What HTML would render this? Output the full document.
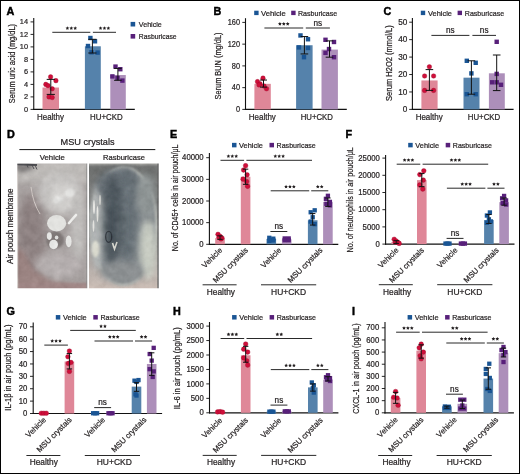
<!DOCTYPE html>
<html><head><meta charset="utf-8"><style>
html,body{margin:0;padding:0;background:#fff;}
body{width:520px;height:474px;overflow:hidden;}
svg{display:block;font-family:"Liberation Sans", sans-serif;}
text{stroke:#231f20;stroke-width:0.22px;}
svg{will-change:transform;opacity:0.999;}
</style></head><body>
<svg width="520" height="474" viewBox="0 0 520 474">
<rect x="0" y="0" width="520" height="474" fill="#fff"/>
<text x="6.40" y="14.90" font-size="10.8" text-anchor="start" font-weight="bold" fill="#000" style="stroke:#000;stroke-width:0.45px">A</text>
<line x1="33.75" y1="17.90" x2="33.75" y2="110.00" stroke="#111" stroke-width="1.1"/>
<line x1="33.20" y1="109.40" x2="134.80" y2="109.40" stroke="#111" stroke-width="1.2"/>
<line x1="30.55" y1="109.40" x2="33.75" y2="109.40" stroke="#111" stroke-width="0.9"/>
<text x="28.05" y="111.96" font-size="8.0" text-anchor="end" font-weight="normal" fill="#231f20" textLength="4.10" lengthAdjust="spacingAndGlyphs">0</text>
<line x1="30.55" y1="96.90" x2="33.75" y2="96.90" stroke="#111" stroke-width="0.9"/>
<text x="28.05" y="99.46" font-size="8.0" text-anchor="end" font-weight="normal" fill="#231f20" textLength="4.10" lengthAdjust="spacingAndGlyphs">2</text>
<line x1="30.55" y1="84.40" x2="33.75" y2="84.40" stroke="#111" stroke-width="0.9"/>
<text x="28.05" y="86.96" font-size="8.0" text-anchor="end" font-weight="normal" fill="#231f20" textLength="4.10" lengthAdjust="spacingAndGlyphs">4</text>
<line x1="30.55" y1="71.90" x2="33.75" y2="71.90" stroke="#111" stroke-width="0.9"/>
<text x="28.05" y="74.46" font-size="8.0" text-anchor="end" font-weight="normal" fill="#231f20" textLength="4.10" lengthAdjust="spacingAndGlyphs">6</text>
<line x1="30.55" y1="59.40" x2="33.75" y2="59.40" stroke="#111" stroke-width="0.9"/>
<text x="28.05" y="61.96" font-size="8.0" text-anchor="end" font-weight="normal" fill="#231f20" textLength="4.10" lengthAdjust="spacingAndGlyphs">8</text>
<line x1="30.55" y1="46.90" x2="33.75" y2="46.90" stroke="#111" stroke-width="0.9"/>
<text x="28.05" y="49.46" font-size="8.0" text-anchor="end" font-weight="normal" fill="#231f20" textLength="8.20" lengthAdjust="spacingAndGlyphs">10</text>
<line x1="30.55" y1="34.40" x2="33.75" y2="34.40" stroke="#111" stroke-width="0.9"/>
<text x="28.05" y="36.96" font-size="8.0" text-anchor="end" font-weight="normal" fill="#231f20" textLength="8.20" lengthAdjust="spacingAndGlyphs">12</text>
<line x1="30.55" y1="21.90" x2="33.75" y2="21.90" stroke="#111" stroke-width="0.9"/>
<text x="28.05" y="24.46" font-size="8.0" text-anchor="end" font-weight="normal" fill="#231f20" textLength="8.20" lengthAdjust="spacingAndGlyphs">14</text>
<text x="0" y="0" font-size="9.0" text-anchor="middle" fill="#231f20" textLength="79.20" lengthAdjust="spacingAndGlyphs" transform="translate(14.60 63.60) rotate(-90)">Serum uric acid (mg/dL)</text>
<rect x="42.50" y="87.53" width="16.50" height="21.88" fill="#df8798"/>
<rect x="84.90" y="46.28" width="15.90" height="63.12" fill="#5582ab"/>
<rect x="110.30" y="75.03" width="15.50" height="34.38" fill="#ad8fba"/>
<circle cx="50.60" cy="76.90" r="2.3" fill="#cf0f3a" stroke="#9a0a2a" stroke-width="0.35"/>
<circle cx="55.90" cy="80.65" r="2.3" fill="#cf0f3a" stroke="#9a0a2a" stroke-width="0.35"/>
<circle cx="45.80" cy="84.40" r="2.3" fill="#cf0f3a" stroke="#9a0a2a" stroke-width="0.35"/>
<circle cx="48.00" cy="85.65" r="2.3" fill="#cf0f3a" stroke="#9a0a2a" stroke-width="0.35"/>
<circle cx="52.20" cy="88.78" r="2.3" fill="#cf0f3a" stroke="#9a0a2a" stroke-width="0.35"/>
<circle cx="49.00" cy="96.90" r="2.3" fill="#cf0f3a" stroke="#9a0a2a" stroke-width="0.35"/>
<circle cx="52.20" cy="97.53" r="2.3" fill="#cf0f3a" stroke="#9a0a2a" stroke-width="0.35"/>
<line x1="50.80" y1="79.40" x2="50.80" y2="94.40" stroke="#111" stroke-width="1.0"/>
<line x1="46.70" y1="79.40" x2="54.90" y2="79.40" stroke="#111" stroke-width="1.0"/>
<line x1="46.70" y1="94.40" x2="54.90" y2="94.40" stroke="#111" stroke-width="1.0"/>
<rect x="88.20" y="35.80" width="4.40" height="4.40" fill="#1a5594"/>
<rect x="92.80" y="39.10" width="4.40" height="4.40" fill="#1a5594"/>
<rect x="85.80" y="43.80" width="4.40" height="4.40" fill="#1a5594"/>
<rect x="89.30" y="50.10" width="4.40" height="4.40" fill="#1a5594"/>
<rect x="95.40" y="50.40" width="4.40" height="4.40" fill="#1a5594"/>
<line x1="92.40" y1="39.30" x2="92.40" y2="53.00" stroke="#111" stroke-width="1.0"/>
<line x1="88.30" y1="39.30" x2="96.50" y2="39.30" stroke="#111" stroke-width="1.0"/>
<line x1="88.30" y1="53.00" x2="96.50" y2="53.00" stroke="#111" stroke-width="1.0"/>
<rect x="113.30" y="64.40" width="4.40" height="4.40" fill="#58207a"/>
<rect x="118.10" y="67.00" width="4.40" height="4.40" fill="#58207a"/>
<rect x="110.20" y="74.20" width="4.40" height="4.40" fill="#58207a"/>
<rect x="120.20" y="78.40" width="4.40" height="4.40" fill="#58207a"/>
<rect x="115.30" y="75.80" width="4.40" height="4.40" fill="#58207a"/>
<line x1="117.90" y1="68.40" x2="117.90" y2="80.30" stroke="#111" stroke-width="1.0"/>
<line x1="114.10" y1="68.40" x2="121.70" y2="68.40" stroke="#111" stroke-width="1.0"/>
<line x1="114.10" y1="80.30" x2="121.70" y2="80.30" stroke="#111" stroke-width="1.0"/>
<line x1="52.30" y1="32.30" x2="90.30" y2="32.30" stroke="#111" stroke-width="0.9"/>
<polygon points="67.40,26.25 67.97,27.41 69.25,27.60 68.33,28.50 68.55,29.78 67.40,29.17 66.25,29.78 66.47,28.50 65.55,27.60 66.83,27.41" fill="#231f20"/>
<polygon points="71.30,26.25 71.87,27.41 73.15,27.60 72.23,28.50 72.45,29.78 71.30,29.17 70.15,29.78 70.37,28.50 69.45,27.60 70.73,27.41" fill="#231f20"/>
<polygon points="75.20,26.25 75.77,27.41 77.05,27.60 76.13,28.50 76.35,29.78 75.20,29.17 74.05,29.78 74.27,28.50 73.35,27.60 74.63,27.41" fill="#231f20"/>
<line x1="92.90" y1="32.30" x2="116.00" y2="32.30" stroke="#111" stroke-width="0.9"/>
<polygon points="100.55,26.25 101.12,27.41 102.40,27.60 101.48,28.50 101.70,29.78 100.55,29.17 99.40,29.78 99.62,28.50 98.70,27.60 99.98,27.41" fill="#231f20"/>
<polygon points="104.45,26.25 105.02,27.41 106.30,27.60 105.38,28.50 105.60,29.78 104.45,29.17 103.30,29.78 103.52,28.50 102.60,27.60 103.88,27.41" fill="#231f20"/>
<polygon points="108.35,26.25 108.92,27.41 110.20,27.60 109.28,28.50 109.50,29.78 108.35,29.17 107.20,29.78 107.42,28.50 106.50,27.60 107.78,27.41" fill="#231f20"/>
<rect x="130.60" y="21.90" width="4.60" height="4.60" fill="#1a5594"/>
<text x="138.80" y="27.08" font-size="8.0" text-anchor="start" font-weight="normal" fill="#231f20" textLength="23.00" lengthAdjust="spacingAndGlyphs">Vehicle</text>
<rect x="130.60" y="34.00" width="4.60" height="4.60" fill="#58207a"/>
<text x="138.80" y="39.18" font-size="8.0" text-anchor="start" font-weight="normal" fill="#231f20" textLength="37.80" lengthAdjust="spacingAndGlyphs">Rasburicase</text>
<text x="50.45" y="119.90" font-size="8.6" text-anchor="middle" font-weight="normal" fill="#231f20" textLength="26.90" lengthAdjust="spacingAndGlyphs">Healthy</text>
<text x="106.40" y="119.90" font-size="8.6" text-anchor="middle" font-weight="normal" fill="#231f20" textLength="32.60" lengthAdjust="spacingAndGlyphs">HU+CKD</text>
<text x="213.40" y="15.00" font-size="10.8" text-anchor="start" font-weight="bold" fill="#000" style="stroke:#000;stroke-width:0.45px">B</text>
<line x1="245.50" y1="18.20" x2="245.50" y2="110.00" stroke="#111" stroke-width="1.1"/>
<line x1="244.95" y1="109.40" x2="346.80" y2="109.40" stroke="#111" stroke-width="1.2"/>
<line x1="242.30" y1="109.40" x2="245.50" y2="109.40" stroke="#111" stroke-width="0.9"/>
<text x="240.00" y="112.02" font-size="8.2" text-anchor="end" font-weight="normal" fill="#231f20" textLength="4.10" lengthAdjust="spacingAndGlyphs">0</text>
<line x1="242.30" y1="87.65" x2="245.50" y2="87.65" stroke="#111" stroke-width="0.9"/>
<text x="240.00" y="90.27" font-size="8.2" text-anchor="end" font-weight="normal" fill="#231f20" textLength="8.20" lengthAdjust="spacingAndGlyphs">40</text>
<line x1="242.30" y1="65.90" x2="245.50" y2="65.90" stroke="#111" stroke-width="0.9"/>
<text x="240.00" y="68.52" font-size="8.2" text-anchor="end" font-weight="normal" fill="#231f20" textLength="8.20" lengthAdjust="spacingAndGlyphs">80</text>
<line x1="242.30" y1="44.15" x2="245.50" y2="44.15" stroke="#111" stroke-width="0.9"/>
<text x="240.00" y="46.77" font-size="8.2" text-anchor="end" font-weight="normal" fill="#231f20" textLength="12.30" lengthAdjust="spacingAndGlyphs">120</text>
<line x1="242.30" y1="22.40" x2="245.50" y2="22.40" stroke="#111" stroke-width="0.9"/>
<text x="240.00" y="25.02" font-size="8.2" text-anchor="end" font-weight="normal" fill="#231f20" textLength="12.30" lengthAdjust="spacingAndGlyphs">160</text>
<text x="0" y="0" font-size="9.0" text-anchor="middle" fill="#231f20" textLength="66.90" lengthAdjust="spacingAndGlyphs" transform="translate(221.40 66.00) rotate(-90)">Serum BUN (mg/dL)</text>
<rect x="254.40" y="83.84" width="16.40" height="25.56" fill="#df8798"/>
<rect x="296.10" y="45.24" width="16.50" height="64.16" fill="#5582ab"/>
<rect x="321.50" y="49.59" width="16.40" height="59.81" fill="#ad8fba"/>
<circle cx="263.00" cy="78.13" r="2.3" fill="#cf0f3a" stroke="#9a0a2a" stroke-width="0.35"/>
<circle cx="257.50" cy="81.67" r="2.3" fill="#cf0f3a" stroke="#9a0a2a" stroke-width="0.35"/>
<circle cx="260.00" cy="83.84" r="2.3" fill="#cf0f3a" stroke="#9a0a2a" stroke-width="0.35"/>
<circle cx="266.50" cy="88.74" r="2.3" fill="#cf0f3a" stroke="#9a0a2a" stroke-width="0.35"/>
<circle cx="264.00" cy="86.02" r="2.3" fill="#cf0f3a" stroke="#9a0a2a" stroke-width="0.35"/>
<circle cx="259.00" cy="84.93" r="2.3" fill="#cf0f3a" stroke="#9a0a2a" stroke-width="0.35"/>
<line x1="263.50" y1="80.04" x2="263.50" y2="87.11" stroke="#111" stroke-width="1.0"/>
<line x1="260.00" y1="80.04" x2="267.00" y2="80.04" stroke="#111" stroke-width="1.0"/>
<line x1="260.00" y1="87.11" x2="267.00" y2="87.11" stroke="#111" stroke-width="1.0"/>
<rect x="298.30" y="33.25" width="4.40" height="4.40" fill="#1a5594"/>
<rect x="305.80" y="37.06" width="4.40" height="4.40" fill="#1a5594"/>
<rect x="296.80" y="45.21" width="4.40" height="4.40" fill="#1a5594"/>
<rect x="305.80" y="45.76" width="4.40" height="4.40" fill="#1a5594"/>
<rect x="301.80" y="55.00" width="4.40" height="4.40" fill="#1a5594"/>
<line x1="304.40" y1="36.54" x2="304.40" y2="53.94" stroke="#111" stroke-width="1.0"/>
<line x1="300.60" y1="36.54" x2="308.20" y2="36.54" stroke="#111" stroke-width="1.0"/>
<line x1="300.60" y1="53.94" x2="308.20" y2="53.94" stroke="#111" stroke-width="1.0"/>
<rect x="323.30" y="37.60" width="4.40" height="4.40" fill="#58207a"/>
<rect x="331.80" y="39.78" width="4.40" height="4.40" fill="#58207a"/>
<rect x="326.80" y="46.84" width="4.40" height="4.40" fill="#58207a"/>
<rect x="323.30" y="50.65" width="4.40" height="4.40" fill="#58207a"/>
<rect x="331.80" y="55.00" width="4.40" height="4.40" fill="#58207a"/>
<line x1="329.50" y1="40.89" x2="329.50" y2="57.20" stroke="#111" stroke-width="1.0"/>
<line x1="325.70" y1="40.89" x2="333.30" y2="40.89" stroke="#111" stroke-width="1.0"/>
<line x1="325.70" y1="57.20" x2="333.30" y2="57.20" stroke="#111" stroke-width="1.0"/>
<line x1="264.40" y1="28.00" x2="303.20" y2="28.00" stroke="#111" stroke-width="0.9"/>
<polygon points="279.90,21.95 280.47,23.11 281.75,23.30 280.83,24.20 281.05,25.48 279.90,24.88 278.75,25.48 278.97,24.20 278.05,23.30 279.33,23.11" fill="#231f20"/>
<polygon points="283.80,21.95 284.37,23.11 285.65,23.30 284.73,24.20 284.95,25.48 283.80,24.88 282.65,25.48 282.87,24.20 281.95,23.30 283.23,23.11" fill="#231f20"/>
<polygon points="287.70,21.95 288.27,23.11 289.55,23.30 288.63,24.20 288.85,25.48 287.70,24.88 286.55,25.48 286.77,24.20 285.85,23.30 287.13,23.11" fill="#231f20"/>
<line x1="305.80" y1="28.00" x2="329.90" y2="28.00" stroke="#111" stroke-width="0.9"/>
<text x="317.85" y="25.80" font-size="8.2" text-anchor="middle" font-weight="normal" fill="#231f20">ns</text>
<rect x="254.20" y="10.70" width="4.40" height="4.40" fill="#1a5594"/>
<text x="261.00" y="15.78" font-size="8.0" text-anchor="start" font-weight="normal" fill="#231f20" textLength="24.80" lengthAdjust="spacingAndGlyphs">Vehicle</text>
<rect x="291.20" y="10.70" width="4.40" height="4.40" fill="#58207a"/>
<text x="298.00" y="15.78" font-size="8.0" text-anchor="start" font-weight="normal" fill="#231f20" textLength="39.20" lengthAdjust="spacingAndGlyphs">Rasburicase</text>
<text x="262.30" y="119.90" font-size="8.6" text-anchor="middle" font-weight="normal" fill="#231f20" textLength="27.00" lengthAdjust="spacingAndGlyphs">Healthy</text>
<text x="316.80" y="119.90" font-size="8.6" text-anchor="middle" font-weight="normal" fill="#231f20" textLength="32.20" lengthAdjust="spacingAndGlyphs">HU+CKD</text>
<text x="383.60" y="15.00" font-size="10.8" text-anchor="start" font-weight="bold" fill="#000" style="stroke:#000;stroke-width:0.45px">C</text>
<line x1="412.40" y1="17.90" x2="412.40" y2="110.00" stroke="#111" stroke-width="1.1"/>
<line x1="411.85" y1="109.40" x2="513.60" y2="109.40" stroke="#111" stroke-width="1.2"/>
<line x1="409.20" y1="109.40" x2="412.40" y2="109.40" stroke="#111" stroke-width="0.9"/>
<text x="407.30" y="112.02" font-size="8.2" text-anchor="end" font-weight="normal" fill="#231f20" textLength="4.55" lengthAdjust="spacingAndGlyphs">0</text>
<line x1="409.20" y1="91.96" x2="412.40" y2="91.96" stroke="#111" stroke-width="0.9"/>
<text x="407.30" y="94.58" font-size="8.2" text-anchor="end" font-weight="normal" fill="#231f20" textLength="9.10" lengthAdjust="spacingAndGlyphs">10</text>
<line x1="409.20" y1="74.52" x2="412.40" y2="74.52" stroke="#111" stroke-width="0.9"/>
<text x="407.30" y="77.14" font-size="8.2" text-anchor="end" font-weight="normal" fill="#231f20" textLength="9.10" lengthAdjust="spacingAndGlyphs">20</text>
<line x1="409.20" y1="57.08" x2="412.40" y2="57.08" stroke="#111" stroke-width="0.9"/>
<text x="407.30" y="59.70" font-size="8.2" text-anchor="end" font-weight="normal" fill="#231f20" textLength="9.10" lengthAdjust="spacingAndGlyphs">30</text>
<line x1="409.20" y1="39.64" x2="412.40" y2="39.64" stroke="#111" stroke-width="0.9"/>
<text x="407.30" y="42.26" font-size="8.2" text-anchor="end" font-weight="normal" fill="#231f20" textLength="9.10" lengthAdjust="spacingAndGlyphs">40</text>
<line x1="409.20" y1="22.20" x2="412.40" y2="22.20" stroke="#111" stroke-width="0.9"/>
<text x="407.30" y="24.82" font-size="8.2" text-anchor="end" font-weight="normal" fill="#231f20" textLength="9.10" lengthAdjust="spacingAndGlyphs">50</text>
<text x="0" y="0" font-size="9.0" text-anchor="middle" fill="#231f20" textLength="75.80" lengthAdjust="spacingAndGlyphs" transform="translate(392.10 63.10) rotate(-90)">Serum H2O2 (mmol/L)</text>
<rect x="421.40" y="80.45" width="16.20" height="28.95" fill="#df8798"/>
<rect x="463.50" y="77.66" width="16.00" height="31.74" fill="#5582ab"/>
<rect x="488.90" y="73.30" width="15.90" height="36.10" fill="#ad8fba"/>
<circle cx="429.40" cy="66.80" r="2.3" fill="#cf0f3a" stroke="#9a0a2a" stroke-width="0.35"/>
<circle cx="424.60" cy="76.00" r="2.3" fill="#cf0f3a" stroke="#9a0a2a" stroke-width="0.35"/>
<circle cx="433.60" cy="76.00" r="2.3" fill="#cf0f3a" stroke="#9a0a2a" stroke-width="0.35"/>
<circle cx="424.60" cy="90.40" r="2.3" fill="#cf0f3a" stroke="#9a0a2a" stroke-width="0.35"/>
<circle cx="433.60" cy="90.40" r="2.3" fill="#cf0f3a" stroke="#9a0a2a" stroke-width="0.35"/>
<line x1="429.40" y1="69.60" x2="429.40" y2="90.40" stroke="#111" stroke-width="1.0"/>
<line x1="425.60" y1="69.60" x2="433.20" y2="69.60" stroke="#111" stroke-width="1.0"/>
<line x1="425.60" y1="90.40" x2="433.20" y2="90.40" stroke="#111" stroke-width="1.0"/>
<rect x="464.60" y="58.60" width="4.40" height="4.40" fill="#1a5594"/>
<rect x="473.50" y="60.60" width="4.40" height="4.40" fill="#1a5594"/>
<rect x="469.20" y="71.20" width="4.40" height="4.40" fill="#1a5594"/>
<rect x="464.60" y="92.00" width="4.40" height="4.40" fill="#1a5594"/>
<rect x="473.50" y="92.00" width="4.40" height="4.40" fill="#1a5594"/>
<line x1="471.40" y1="60.80" x2="471.40" y2="94.20" stroke="#111" stroke-width="1.0"/>
<line x1="467.60" y1="60.80" x2="475.20" y2="60.80" stroke="#111" stroke-width="1.0"/>
<line x1="467.60" y1="94.20" x2="475.20" y2="94.20" stroke="#111" stroke-width="1.0"/>
<rect x="494.50" y="39.60" width="4.40" height="4.40" fill="#58207a"/>
<rect x="494.50" y="71.70" width="4.40" height="4.40" fill="#58207a"/>
<rect x="490.00" y="80.10" width="4.40" height="4.40" fill="#58207a"/>
<rect x="498.80" y="82.60" width="4.40" height="4.40" fill="#58207a"/>
<rect x="494.50" y="80.10" width="4.40" height="4.40" fill="#58207a"/>
<line x1="496.70" y1="55.00" x2="496.70" y2="90.60" stroke="#111" stroke-width="1.0"/>
<line x1="492.90" y1="55.00" x2="500.50" y2="55.00" stroke="#111" stroke-width="1.0"/>
<line x1="492.90" y1="90.60" x2="500.50" y2="90.60" stroke="#111" stroke-width="1.0"/>
<line x1="431.40" y1="35.40" x2="469.40" y2="35.40" stroke="#111" stroke-width="0.9"/>
<text x="450.40" y="33.20" font-size="8.2" text-anchor="middle" font-weight="normal" fill="#231f20">ns</text>
<line x1="472.40" y1="35.40" x2="496.00" y2="35.40" stroke="#111" stroke-width="0.9"/>
<text x="484.20" y="33.20" font-size="8.2" text-anchor="middle" font-weight="normal" fill="#231f20">ns</text>
<rect x="420.80" y="10.70" width="4.40" height="4.40" fill="#1a5594"/>
<text x="428.00" y="15.78" font-size="8.0" text-anchor="start" font-weight="normal" fill="#231f20" textLength="24.00" lengthAdjust="spacingAndGlyphs">Vehicle</text>
<rect x="457.60" y="10.70" width="4.40" height="4.40" fill="#58207a"/>
<text x="464.80" y="15.78" font-size="8.0" text-anchor="start" font-weight="normal" fill="#231f20" textLength="39.30" lengthAdjust="spacingAndGlyphs">Rasburicase</text>
<text x="429.20" y="119.90" font-size="8.6" text-anchor="middle" font-weight="normal" fill="#231f20" textLength="27.00" lengthAdjust="spacingAndGlyphs">Healthy</text>
<text x="484.00" y="119.90" font-size="8.6" text-anchor="middle" font-weight="normal" fill="#231f20" textLength="32.40" lengthAdjust="spacingAndGlyphs">HU+CKD</text>
<text x="6.90" y="138.30" font-size="10.8" text-anchor="start" font-weight="bold" fill="#000" style="stroke:#000;stroke-width:0.45px">D</text>
<text x="87.60" y="145.40" font-size="9.0" text-anchor="middle" font-weight="normal" fill="#231f20" textLength="54.00" lengthAdjust="spacingAndGlyphs">MSU crystals</text>
<line x1="19.40" y1="149.60" x2="155.30" y2="149.60" stroke="#111" stroke-width="1.0"/>
<text x="52.30" y="159.60" font-size="7.5" text-anchor="middle" font-weight="normal" fill="#231f20" textLength="25.10" lengthAdjust="spacingAndGlyphs">Vehicle</text>
<text x="124.00" y="159.60" font-size="7.5" text-anchor="middle" font-weight="normal" fill="#231f20" textLength="41.90" lengthAdjust="spacingAndGlyphs">Rasburicase</text>
<text x="0" y="0" font-size="8.2" text-anchor="middle" fill="#231f20" textLength="75.4" lengthAdjust="spacingAndGlyphs" transform="translate(12.8 226.3) rotate(-90)">Air pouch membrane</text>
<defs><clipPath id="cpl"><rect x="17.3" y="163.4" width="70" height="124.8"/></clipPath><clipPath id="cpr"><rect x="89" y="163.4" width="69.7" height="124.8"/></clipPath><filter id="b1" x="-50%" y="-50%" width="200%" height="200%"><feGaussianBlur stdDeviation="1"/></filter><filter id="b2" x="-50%" y="-50%" width="200%" height="200%"><feGaussianBlur stdDeviation="2"/></filter><filter id="b3" x="-50%" y="-50%" width="200%" height="200%"><feGaussianBlur stdDeviation="3"/></filter><filter id="b5" x="-50%" y="-50%" width="200%" height="200%"><feGaussianBlur stdDeviation="5"/></filter><filter id="b4" x="-50%" y="-50%" width="200%" height="200%"><feGaussianBlur stdDeviation="4"/></filter><filter id="b05" x="-50%" y="-50%" width="200%" height="200%"><feGaussianBlur stdDeviation="0.6"/></filter><filter id="tex" x="0" y="0" width="100%" height="100%" color-interpolation-filters="sRGB"><feTurbulence type="fractalNoise" baseFrequency="0.13" numOctaves="3" seed="11" result="t"/><feColorMatrix in="t" type="matrix" values="0.33 0.33 0.33 0 0 0.33 0.33 0.33 0 0 0.33 0.33 0.33 0 0 0 0 0 0 1" result="g"/><feComposite in="SourceGraphic" in2="g" operator="arithmetic" k1="0" k2="1" k3="0.16" k4="-0.08"/></filter><linearGradient id="gr" x1="0" y1="0" x2="0" y2="1"><stop offset="0" stop-color="#6e706f"/><stop offset="0.5" stop-color="#838483"/><stop offset="0.8" stop-color="#b0aaa6"/><stop offset="1" stop-color="#cbbdb5"/></linearGradient></defs>
<g clip-path="url(#cpl)"><g filter="url(#tex)">
<rect x="17" y="163" width="71" height="126" fill="#a7a1a0"/>
<rect x="10" y="158" width="85" height="24" fill="#bdbab7" filter="url(#b3)"/>
<ellipse cx="31" cy="238" rx="15" ry="44" fill="#8e8282" filter="url(#b4)"/>
<ellipse cx="60" cy="192" rx="22" ry="20" fill="#c6c4c2" filter="url(#b4)"/>
<ellipse cx="64" cy="199" rx="15" ry="14" fill="#d2d0ce" filter="url(#b4)"/>
<ellipse cx="78" cy="225" rx="7" ry="40" fill="#c0bebc" filter="url(#b3)"/>
<ellipse cx="58" cy="265" rx="23" ry="13" fill="#b5afaf" filter="url(#b3)"/>
<path d="M14 245 L24 252 L34 270 L52 281 L80 286 L90 292 L14 292 Z" fill="#9b8482" filter="url(#b2)"/>
<rect x="10" y="283" width="85" height="12" fill="#a08786" filter="url(#b1)"/>
<rect x="15" y="163" width="3.2" height="126" fill="#c4bcb8" filter="url(#b05)"/>
<path d="M31 187 Q33 203 40 214" stroke="#d4ccc8" stroke-width="0.9" fill="none" filter="url(#b05)"/>
<ellipse cx="70" cy="193" rx="5" ry="4" fill="#e2e2e0" filter="url(#b1)"/>
<ellipse cx="58" cy="200" rx="5" ry="4" fill="#dcdcda" filter="url(#b1)"/>
<path d="M69 223 L76 215" stroke="#eeeeec" stroke-width="2.6" stroke-linecap="round" filter="url(#b05)"/>
<ellipse cx="55" cy="240" rx="9" ry="9" fill="#7f7877" filter="url(#b1)"/>
<ellipse cx="56.6" cy="223.2" rx="9.6" ry="8.2" fill="#e2e2df" filter="url(#b05)"/>
<ellipse cx="49.3" cy="236.1" rx="2.5" ry="3.8" fill="#e6e6e4" filter="url(#b05)"/>
<ellipse cx="53.6" cy="244.5" rx="4.4" ry="4.7" fill="#e6e6e4" filter="url(#b05)"/>
<ellipse cx="56.6" cy="237.6" rx="1.8" ry="2" fill="#e2e2e0" filter="url(#b05)"/>
<ellipse cx="68.7" cy="241.4" rx="2.9" ry="5.8" fill="#e6e6e4" filter="url(#b05)"/>
<ellipse cx="24" cy="167" rx="9" ry="5" fill="#7e7a7a" filter="url(#b2)"/>
<path d="M17 164.3 L37 165" stroke="#4a4a4e" stroke-width="1.8" filter="url(#b05)"/>
<path d="M32 165 L34 169 M35 165 L37 169.5 M27 165 L28 167.5" stroke="#4a4a4e" stroke-width="0.9" filter="url(#b05)"/>
<rect x="86.4" y="163" width="1" height="126" fill="#888"/>
</g></g>
<g clip-path="url(#cpr)"><g filter="url(#tex)">
<rect x="88" y="163" width="72" height="126" fill="url(#gr)"/>
<rect x="85" y="160" width="80" height="5" fill="#a6a6a2" filter="url(#b1)"/>
<ellipse cx="123.8" cy="226" rx="33.5" ry="59" fill="#878d90" filter="url(#b1)"/>
<ellipse cx="123.8" cy="226" rx="33" ry="58.5" fill="none" stroke="#c2c4be" stroke-width="2.4" opacity="0.9" filter="url(#b1)"/>
<ellipse cx="97.5" cy="226" rx="7" ry="44" fill="#b0b4b4" filter="url(#b2)"/>
<ellipse cx="118" cy="185" rx="22" ry="16" fill="#687076" filter="url(#b3)"/>
<ellipse cx="127" cy="218" rx="11" ry="50" fill="#667076" filter="url(#b4)"/>
<ellipse cx="112.5" cy="222" rx="9" ry="47" fill="#4a525a" filter="url(#b4)"/>
<ellipse cx="146" cy="195" rx="9" ry="22" fill="#8e9494" filter="url(#b3)"/>
<ellipse cx="148" cy="250" rx="8.5" ry="30" fill="#c8ccc2" filter="url(#b3)"/>
<ellipse cx="94" cy="207" rx="1" ry="7" fill="#e8e8e4" filter="url(#b05)"/>
<ellipse cx="97.5" cy="214" rx="0.9" ry="8" fill="#e4e4e0" filter="url(#b05)"/>
<ellipse cx="93.5" cy="226" rx="0.9" ry="6" fill="#e0e0dc" filter="url(#b05)"/>
<ellipse cx="100" cy="200" rx="0.8" ry="5" fill="#d8d8d4" filter="url(#b05)"/>
<ellipse cx="95.5" cy="249" rx="3.7" ry="8.5" fill="#dcdcd0" filter="url(#b1)"/>
<ellipse cx="108.7" cy="236.8" rx="3" ry="5.5" fill="none" stroke="#30363c" stroke-width="1.3" filter="url(#b05)"/>
<path d="M112.5 243 L114.5 249 L117 242" stroke="#d4d4cc" stroke-width="1.6" fill="none" filter="url(#b05)"/>
<ellipse cx="122" cy="272" rx="22" ry="11" fill="#8c9092" filter="url(#b3)"/>
<rect x="157.4" y="163" width="2" height="126" fill="#606060"/>
</g></g>
<text x="170.00" y="138.40" font-size="10.8" text-anchor="start" font-weight="bold" fill="#000" style="stroke:#000;stroke-width:0.45px">E</text>
<line x1="209.40" y1="153.10" x2="209.40" y2="244.90" stroke="#111" stroke-width="1.1"/>
<line x1="208.85" y1="244.30" x2="338.30" y2="244.30" stroke="#111" stroke-width="1.2"/>
<line x1="206.20" y1="244.30" x2="209.40" y2="244.30" stroke="#111" stroke-width="0.9"/>
<text x="203.60" y="246.96" font-size="8.3" text-anchor="end" font-weight="normal" fill="#231f20" textLength="4.30" lengthAdjust="spacingAndGlyphs">0</text>
<line x1="206.20" y1="222.65" x2="209.40" y2="222.65" stroke="#111" stroke-width="0.9"/>
<text x="203.60" y="225.31" font-size="8.3" text-anchor="end" font-weight="normal" fill="#231f20" textLength="21.50" lengthAdjust="spacingAndGlyphs">10000</text>
<line x1="206.20" y1="201.00" x2="209.40" y2="201.00" stroke="#111" stroke-width="0.9"/>
<text x="203.60" y="203.66" font-size="8.3" text-anchor="end" font-weight="normal" fill="#231f20" textLength="21.50" lengthAdjust="spacingAndGlyphs">20000</text>
<line x1="206.20" y1="179.35" x2="209.40" y2="179.35" stroke="#111" stroke-width="0.9"/>
<text x="203.60" y="182.01" font-size="8.3" text-anchor="end" font-weight="normal" fill="#231f20" textLength="21.50" lengthAdjust="spacingAndGlyphs">30000</text>
<line x1="206.20" y1="157.70" x2="209.40" y2="157.70" stroke="#111" stroke-width="0.9"/>
<text x="203.60" y="160.36" font-size="8.3" text-anchor="end" font-weight="normal" fill="#231f20" textLength="21.50" lengthAdjust="spacingAndGlyphs">40000</text>
<text x="0" y="0" font-size="8.6" text-anchor="middle" fill="#231f20" textLength="106.50" lengthAdjust="spacingAndGlyphs" transform="translate(177.80 197.90) rotate(-90)">No. of CD45+ cells in air pouch/μL</text>
<rect x="215.20" y="238.11" width="9.60" height="6.19" fill="#df8798"/>
<rect x="240.80" y="176.75" width="9.60" height="67.55" fill="#df8798"/>
<rect x="266.50" y="238.89" width="9.60" height="5.41" fill="#5582ab"/>
<rect x="281.90" y="239.32" width="9.60" height="4.98" fill="#ad8fba"/>
<rect x="307.90" y="220.27" width="9.60" height="24.03" fill="#5582ab"/>
<rect x="323.10" y="201.87" width="9.60" height="42.43" fill="#ad8fba"/>
<circle cx="218.00" cy="234.34" r="2.35" fill="#cf0f3a" stroke="#9a0a2a" stroke-width="0.35"/>
<circle cx="220.00" cy="236.29" r="2.35" fill="#cf0f3a" stroke="#9a0a2a" stroke-width="0.35"/>
<circle cx="222.00" cy="238.02" r="2.35" fill="#cf0f3a" stroke="#9a0a2a" stroke-width="0.35"/>
<circle cx="221.00" cy="238.89" r="2.35" fill="#cf0f3a" stroke="#9a0a2a" stroke-width="0.35"/>
<circle cx="219.00" cy="237.37" r="2.35" fill="#cf0f3a" stroke="#9a0a2a" stroke-width="0.35"/>
<line x1="220.00" y1="235.86" x2="220.00" y2="239.32" stroke="#111" stroke-width="1.0"/>
<line x1="217.30" y1="235.86" x2="222.70" y2="235.86" stroke="#111" stroke-width="1.0"/>
<line x1="217.30" y1="239.32" x2="222.70" y2="239.32" stroke="#111" stroke-width="1.0"/>
<circle cx="245.60" cy="165.71" r="2.35" fill="#cf0f3a" stroke="#9a0a2a" stroke-width="0.35"/>
<circle cx="243.60" cy="170.04" r="2.35" fill="#cf0f3a" stroke="#9a0a2a" stroke-width="0.35"/>
<circle cx="247.10" cy="174.80" r="2.35" fill="#cf0f3a" stroke="#9a0a2a" stroke-width="0.35"/>
<circle cx="243.10" cy="179.13" r="2.35" fill="#cf0f3a" stroke="#9a0a2a" stroke-width="0.35"/>
<circle cx="246.60" cy="181.51" r="2.35" fill="#cf0f3a" stroke="#9a0a2a" stroke-width="0.35"/>
<circle cx="247.60" cy="186.28" r="2.35" fill="#cf0f3a" stroke="#9a0a2a" stroke-width="0.35"/>
<line x1="245.60" y1="169.17" x2="245.60" y2="184.33" stroke="#111" stroke-width="1.0"/>
<line x1="242.90" y1="169.17" x2="248.30" y2="169.17" stroke="#111" stroke-width="1.0"/>
<line x1="242.90" y1="184.33" x2="248.30" y2="184.33" stroke="#111" stroke-width="1.0"/>
<rect x="267.15" y="235.66" width="4.30" height="4.30" fill="#1a5594"/>
<rect x="271.15" y="236.52" width="4.30" height="4.30" fill="#1a5594"/>
<rect x="269.15" y="237.82" width="4.30" height="4.30" fill="#1a5594"/>
<rect x="267.15" y="238.69" width="4.30" height="4.30" fill="#1a5594"/>
<rect x="271.15" y="238.25" width="4.30" height="4.30" fill="#1a5594"/>
<rect x="282.55" y="236.30" width="4.30" height="4.30" fill="#58207a"/>
<rect x="286.55" y="236.30" width="4.30" height="4.30" fill="#58207a"/>
<rect x="284.55" y="237.17" width="4.30" height="4.30" fill="#58207a"/>
<rect x="282.55" y="238.04" width="4.30" height="4.30" fill="#58207a"/>
<rect x="286.55" y="238.04" width="4.30" height="4.30" fill="#58207a"/>
<rect x="312.55" y="208.16" width="4.30" height="4.30" fill="#1a5594"/>
<rect x="308.55" y="210.11" width="4.30" height="4.30" fill="#1a5594"/>
<rect x="310.55" y="215.09" width="4.30" height="4.30" fill="#1a5594"/>
<rect x="308.55" y="219.42" width="4.30" height="4.30" fill="#1a5594"/>
<rect x="312.55" y="222.02" width="4.30" height="4.30" fill="#1a5594"/>
<line x1="312.70" y1="213.56" x2="312.70" y2="225.03" stroke="#111" stroke-width="1.0"/>
<line x1="310.00" y1="213.56" x2="315.40" y2="213.56" stroke="#111" stroke-width="1.0"/>
<line x1="310.00" y1="225.03" x2="315.40" y2="225.03" stroke="#111" stroke-width="1.0"/>
<rect x="325.75" y="193.65" width="4.30" height="4.30" fill="#58207a"/>
<rect x="323.75" y="196.68" width="4.30" height="4.30" fill="#58207a"/>
<rect x="327.75" y="199.72" width="4.30" height="4.30" fill="#58207a"/>
<rect x="324.25" y="201.66" width="4.30" height="4.30" fill="#58207a"/>
<rect x="327.75" y="203.18" width="4.30" height="4.30" fill="#58207a"/>
<line x1="327.90" y1="197.97" x2="327.90" y2="206.41" stroke="#111" stroke-width="1.0"/>
<line x1="325.20" y1="197.97" x2="330.60" y2="197.97" stroke="#111" stroke-width="1.0"/>
<line x1="325.20" y1="206.41" x2="330.60" y2="206.41" stroke="#111" stroke-width="1.0"/>
<line x1="220.50" y1="160.30" x2="244.10" y2="160.30" stroke="#111" stroke-width="0.9"/>
<polygon points="228.40,154.25 228.97,155.41 230.25,155.60 229.33,156.50 229.55,157.78 228.40,157.18 227.25,157.78 227.47,156.50 226.55,155.60 227.83,155.41" fill="#231f20"/>
<polygon points="232.30,154.25 232.87,155.41 234.15,155.60 233.23,156.50 233.45,157.78 232.30,157.18 231.15,157.78 231.37,156.50 230.45,155.60 231.73,155.41" fill="#231f20"/>
<polygon points="236.20,154.25 236.77,155.41 238.05,155.60 237.13,156.50 237.35,157.78 236.20,157.18 235.05,157.78 235.27,156.50 234.35,155.60 235.63,155.41" fill="#231f20"/>
<line x1="246.40" y1="160.30" x2="312.00" y2="160.30" stroke="#111" stroke-width="0.9"/>
<polygon points="275.30,154.25 275.87,155.41 277.15,155.60 276.23,156.50 276.45,157.78 275.30,157.18 274.15,157.78 274.37,156.50 273.45,155.60 274.73,155.41" fill="#231f20"/>
<polygon points="279.20,154.25 279.77,155.41 281.05,155.60 280.13,156.50 280.35,157.78 279.20,157.18 278.05,157.78 278.27,156.50 277.35,155.60 278.63,155.41" fill="#231f20"/>
<polygon points="283.10,154.25 283.67,155.41 284.95,155.60 284.03,156.50 284.25,157.78 283.10,157.18 281.95,157.78 282.17,156.50 281.25,155.60 282.53,155.41" fill="#231f20"/>
<line x1="270.70" y1="190.80" x2="309.20" y2="190.80" stroke="#111" stroke-width="0.9"/>
<polygon points="286.05,184.75 286.62,185.91 287.90,186.10 286.98,187.00 287.20,188.28 286.05,187.68 284.90,188.28 285.12,187.00 284.20,186.10 285.48,185.91" fill="#231f20"/>
<polygon points="289.95,184.75 290.52,185.91 291.80,186.10 290.88,187.00 291.10,188.28 289.95,187.68 288.80,188.28 289.02,187.00 288.10,186.10 289.38,185.91" fill="#231f20"/>
<polygon points="293.85,184.75 294.42,185.91 295.70,186.10 294.78,187.00 295.00,188.28 293.85,187.68 292.70,188.28 292.92,187.00 292.00,186.10 293.28,185.91" fill="#231f20"/>
<line x1="311.20" y1="190.80" x2="328.30" y2="190.80" stroke="#111" stroke-width="0.9"/>
<polygon points="317.80,184.75 318.37,185.91 319.65,186.10 318.73,187.00 318.95,188.28 317.80,187.68 316.65,188.28 316.87,187.00 315.95,186.10 317.23,185.91" fill="#231f20"/>
<polygon points="321.70,184.75 322.27,185.91 323.55,186.10 322.63,187.00 322.85,188.28 321.70,187.68 320.55,188.28 320.77,187.00 319.85,186.10 321.13,185.91" fill="#231f20"/>
<line x1="270.40" y1="231.50" x2="287.30" y2="231.50" stroke="#111" stroke-width="0.9"/>
<text x="278.85" y="229.30" font-size="8.2" text-anchor="middle" font-weight="normal" fill="#231f20">ns</text>
<rect x="232.00" y="142.85" width="4.50" height="4.50" fill="#1a5594"/>
<text x="239.10" y="147.98" font-size="8.0" text-anchor="start" font-weight="normal" fill="#231f20" textLength="23.80" lengthAdjust="spacingAndGlyphs">Vehicle</text>
<rect x="269.50" y="142.85" width="4.50" height="4.50" fill="#58207a"/>
<text x="276.60" y="147.98" font-size="8.0" text-anchor="start" font-weight="normal" fill="#231f20" textLength="39.20" lengthAdjust="spacingAndGlyphs">Rasburicase</text>
<text x="0" y="0" font-size="7.8" text-anchor="end" fill="#231f20" transform="translate(222.80 250.70) rotate(-45)">Vehicle</text>
<text x="0" y="0" font-size="7.8" text-anchor="end" fill="#231f20" transform="translate(248.40 250.70) rotate(-45)">MSU crystals</text>
<text x="0" y="0" font-size="7.8" text-anchor="end" fill="#231f20" transform="translate(281.80 250.70) rotate(-45)">Vehicle</text>
<text x="0" y="0" font-size="7.8" text-anchor="end" fill="#231f20" transform="translate(323.10 250.70) rotate(-45)">MSU crystals</text>
<line x1="202.60" y1="284.80" x2="236.60" y2="284.80" stroke="#111" stroke-width="0.9"/>
<line x1="261.00" y1="284.80" x2="316.20" y2="284.80" stroke="#111" stroke-width="0.9"/>
<text x="220.90" y="295.30" font-size="8.3" text-anchor="middle" font-weight="normal" fill="#231f20" textLength="28.20" lengthAdjust="spacingAndGlyphs">Healthy</text>
<text x="288.60" y="295.30" font-size="8.3" text-anchor="middle" font-weight="normal" fill="#231f20" textLength="35.00" lengthAdjust="spacingAndGlyphs">HU+CKD</text>
<text x="345.60" y="138.40" font-size="10.8" text-anchor="start" font-weight="bold" fill="#000" style="stroke:#000;stroke-width:0.45px">F</text>
<line x1="385.60" y1="155.00" x2="385.60" y2="244.70" stroke="#111" stroke-width="1.1"/>
<line x1="385.05" y1="244.10" x2="514.50" y2="244.10" stroke="#111" stroke-width="1.2"/>
<line x1="382.40" y1="244.10" x2="385.60" y2="244.10" stroke="#111" stroke-width="0.9"/>
<text x="379.80" y="246.76" font-size="8.3" text-anchor="end" font-weight="normal" fill="#231f20" textLength="4.30" lengthAdjust="spacingAndGlyphs">0</text>
<line x1="382.40" y1="226.90" x2="385.60" y2="226.90" stroke="#111" stroke-width="0.9"/>
<text x="379.80" y="229.56" font-size="8.3" text-anchor="end" font-weight="normal" fill="#231f20" textLength="17.20" lengthAdjust="spacingAndGlyphs">5000</text>
<line x1="382.40" y1="209.70" x2="385.60" y2="209.70" stroke="#111" stroke-width="0.9"/>
<text x="379.80" y="212.36" font-size="8.3" text-anchor="end" font-weight="normal" fill="#231f20" textLength="21.50" lengthAdjust="spacingAndGlyphs">10000</text>
<line x1="382.40" y1="192.50" x2="385.60" y2="192.50" stroke="#111" stroke-width="0.9"/>
<text x="379.80" y="195.16" font-size="8.3" text-anchor="end" font-weight="normal" fill="#231f20" textLength="21.50" lengthAdjust="spacingAndGlyphs">15000</text>
<line x1="382.40" y1="175.30" x2="385.60" y2="175.30" stroke="#111" stroke-width="0.9"/>
<text x="379.80" y="177.96" font-size="8.3" text-anchor="end" font-weight="normal" fill="#231f20" textLength="21.50" lengthAdjust="spacingAndGlyphs">20000</text>
<line x1="382.40" y1="158.10" x2="385.60" y2="158.10" stroke="#111" stroke-width="0.9"/>
<text x="379.80" y="160.76" font-size="8.3" text-anchor="end" font-weight="normal" fill="#231f20" textLength="21.50" lengthAdjust="spacingAndGlyphs">25000</text>
<text x="0" y="0" font-size="8.6" text-anchor="middle" fill="#231f20" textLength="105.20" lengthAdjust="spacingAndGlyphs" transform="translate(353.10 199.80) rotate(-90)">No. of neutrophils in air pouch/μL</text>
<rect x="391.40" y="242.04" width="9.60" height="2.06" fill="#df8798"/>
<rect x="417.00" y="180.12" width="9.60" height="63.98" fill="#df8798"/>
<rect x="442.70" y="243.58" width="9.60" height="0.52" fill="#5582ab"/>
<rect x="458.10" y="243.58" width="9.60" height="0.52" fill="#ad8fba"/>
<rect x="484.10" y="220.02" width="9.60" height="24.08" fill="#5582ab"/>
<rect x="499.30" y="202.13" width="9.60" height="41.97" fill="#ad8fba"/>
<circle cx="394.20" cy="239.28" r="2.35" fill="#cf0f3a" stroke="#9a0a2a" stroke-width="0.35"/>
<circle cx="396.20" cy="241.00" r="2.35" fill="#cf0f3a" stroke="#9a0a2a" stroke-width="0.35"/>
<circle cx="398.20" cy="242.72" r="2.35" fill="#cf0f3a" stroke="#9a0a2a" stroke-width="0.35"/>
<circle cx="399.20" cy="243.41" r="2.35" fill="#cf0f3a" stroke="#9a0a2a" stroke-width="0.35"/>
<circle cx="395.20" cy="242.04" r="2.35" fill="#cf0f3a" stroke="#9a0a2a" stroke-width="0.35"/>
<line x1="396.20" y1="240.66" x2="396.20" y2="243.41" stroke="#111" stroke-width="1.0"/>
<line x1="393.50" y1="240.66" x2="398.90" y2="240.66" stroke="#111" stroke-width="1.0"/>
<line x1="393.50" y1="243.41" x2="398.90" y2="243.41" stroke="#111" stroke-width="1.0"/>
<circle cx="423.80" cy="170.83" r="2.35" fill="#cf0f3a" stroke="#9a0a2a" stroke-width="0.35"/>
<circle cx="419.80" cy="174.61" r="2.35" fill="#cf0f3a" stroke="#9a0a2a" stroke-width="0.35"/>
<circle cx="423.30" cy="180.12" r="2.35" fill="#cf0f3a" stroke="#9a0a2a" stroke-width="0.35"/>
<circle cx="419.80" cy="184.93" r="2.35" fill="#cf0f3a" stroke="#9a0a2a" stroke-width="0.35"/>
<circle cx="422.80" cy="189.06" r="2.35" fill="#cf0f3a" stroke="#9a0a2a" stroke-width="0.35"/>
<line x1="421.80" y1="173.58" x2="421.80" y2="186.65" stroke="#111" stroke-width="1.0"/>
<line x1="419.10" y1="173.58" x2="424.50" y2="173.58" stroke="#111" stroke-width="1.0"/>
<line x1="419.10" y1="186.65" x2="424.50" y2="186.65" stroke="#111" stroke-width="1.0"/>
<rect x="443.35" y="241.43" width="4.30" height="4.30" fill="#1a5594"/>
<rect x="447.35" y="241.43" width="4.30" height="4.30" fill="#1a5594"/>
<rect x="445.35" y="241.43" width="4.30" height="4.30" fill="#1a5594"/>
<rect x="458.75" y="241.43" width="4.30" height="4.30" fill="#58207a"/>
<rect x="462.75" y="241.43" width="4.30" height="4.30" fill="#58207a"/>
<rect x="460.75" y="241.43" width="4.30" height="4.30" fill="#58207a"/>
<rect x="487.75" y="210.30" width="4.30" height="4.30" fill="#1a5594"/>
<rect x="484.75" y="213.40" width="4.30" height="4.30" fill="#1a5594"/>
<rect x="486.75" y="217.18" width="4.30" height="4.30" fill="#1a5594"/>
<rect x="484.75" y="220.62" width="4.30" height="4.30" fill="#1a5594"/>
<rect x="488.75" y="219.25" width="4.30" height="4.30" fill="#1a5594"/>
<line x1="488.90" y1="214.52" x2="488.90" y2="223.46" stroke="#111" stroke-width="1.0"/>
<line x1="486.20" y1="214.52" x2="491.60" y2="214.52" stroke="#111" stroke-width="1.0"/>
<line x1="486.20" y1="223.46" x2="491.60" y2="223.46" stroke="#111" stroke-width="1.0"/>
<rect x="501.95" y="193.79" width="4.30" height="4.30" fill="#58207a"/>
<rect x="499.95" y="196.20" width="4.30" height="4.30" fill="#58207a"/>
<rect x="503.95" y="198.26" width="4.30" height="4.30" fill="#58207a"/>
<rect x="500.45" y="201.01" width="4.30" height="4.30" fill="#58207a"/>
<rect x="503.95" y="202.39" width="4.30" height="4.30" fill="#58207a"/>
<line x1="504.10" y1="198.00" x2="504.10" y2="205.23" stroke="#111" stroke-width="1.0"/>
<line x1="501.40" y1="198.00" x2="506.80" y2="198.00" stroke="#111" stroke-width="1.0"/>
<line x1="501.40" y1="205.23" x2="506.80" y2="205.23" stroke="#111" stroke-width="1.0"/>
<line x1="396.70" y1="164.20" x2="420.30" y2="164.20" stroke="#111" stroke-width="0.9"/>
<polygon points="404.60,158.15 405.17,159.31 406.45,159.50 405.53,160.40 405.75,161.68 404.60,161.07 403.45,161.68 403.67,160.40 402.75,159.50 404.03,159.31" fill="#231f20"/>
<polygon points="408.50,158.15 409.07,159.31 410.35,159.50 409.43,160.40 409.65,161.68 408.50,161.07 407.35,161.68 407.57,160.40 406.65,159.50 407.93,159.31" fill="#231f20"/>
<polygon points="412.40,158.15 412.97,159.31 414.25,159.50 413.33,160.40 413.55,161.68 412.40,161.07 411.25,161.68 411.47,160.40 410.55,159.50 411.83,159.31" fill="#231f20"/>
<line x1="422.60" y1="164.20" x2="488.20" y2="164.20" stroke="#111" stroke-width="0.9"/>
<polygon points="451.50,158.15 452.07,159.31 453.35,159.50 452.43,160.40 452.65,161.68 451.50,161.07 450.35,161.68 450.57,160.40 449.65,159.50 450.93,159.31" fill="#231f20"/>
<polygon points="455.40,158.15 455.97,159.31 457.25,159.50 456.33,160.40 456.55,161.68 455.40,161.07 454.25,161.68 454.47,160.40 453.55,159.50 454.83,159.31" fill="#231f20"/>
<polygon points="459.30,158.15 459.87,159.31 461.15,159.50 460.23,160.40 460.45,161.68 459.30,161.07 458.15,161.68 458.37,160.40 457.45,159.50 458.73,159.31" fill="#231f20"/>
<line x1="446.90" y1="188.20" x2="485.40" y2="188.20" stroke="#111" stroke-width="0.9"/>
<polygon points="462.25,182.15 462.82,183.31 464.10,183.50 463.18,184.40 463.40,185.68 462.25,185.07 461.10,185.68 461.32,184.40 460.40,183.50 461.68,183.31" fill="#231f20"/>
<polygon points="466.15,182.15 466.72,183.31 468.00,183.50 467.08,184.40 467.30,185.68 466.15,185.07 465.00,185.68 465.22,184.40 464.30,183.50 465.58,183.31" fill="#231f20"/>
<polygon points="470.05,182.15 470.62,183.31 471.90,183.50 470.98,184.40 471.20,185.68 470.05,185.07 468.90,185.68 469.12,184.40 468.20,183.50 469.48,183.31" fill="#231f20"/>
<line x1="487.40" y1="188.20" x2="504.50" y2="188.20" stroke="#111" stroke-width="0.9"/>
<polygon points="494.00,182.15 494.57,183.31 495.85,183.50 494.93,184.40 495.15,185.68 494.00,185.07 492.85,185.68 493.07,184.40 492.15,183.50 493.43,183.31" fill="#231f20"/>
<polygon points="497.90,182.15 498.47,183.31 499.75,183.50 498.83,184.40 499.05,185.68 497.90,185.07 496.75,185.68 496.97,184.40 496.05,183.50 497.33,183.31" fill="#231f20"/>
<line x1="446.60" y1="238.40" x2="463.50" y2="238.40" stroke="#111" stroke-width="0.9"/>
<text x="455.05" y="236.20" font-size="8.2" text-anchor="middle" font-weight="normal" fill="#231f20">ns</text>
<rect x="408.20" y="142.85" width="4.50" height="4.50" fill="#1a5594"/>
<text x="415.30" y="147.98" font-size="8.0" text-anchor="start" font-weight="normal" fill="#231f20" textLength="23.80" lengthAdjust="spacingAndGlyphs">Vehicle</text>
<rect x="445.70" y="142.85" width="4.50" height="4.50" fill="#58207a"/>
<text x="452.80" y="147.98" font-size="8.0" text-anchor="start" font-weight="normal" fill="#231f20" textLength="39.20" lengthAdjust="spacingAndGlyphs">Rasburicase</text>
<text x="0" y="0" font-size="7.8" text-anchor="end" fill="#231f20" transform="translate(399.00 250.70) rotate(-45)">Vehicle</text>
<text x="0" y="0" font-size="7.8" text-anchor="end" fill="#231f20" transform="translate(424.60 250.70) rotate(-45)">MSU crystals</text>
<text x="0" y="0" font-size="7.8" text-anchor="end" fill="#231f20" transform="translate(458.00 250.70) rotate(-45)">Vehicle</text>
<text x="0" y="0" font-size="7.8" text-anchor="end" fill="#231f20" transform="translate(499.30 250.70) rotate(-45)">MSU crystals</text>
<line x1="378.80" y1="284.70" x2="412.80" y2="284.70" stroke="#111" stroke-width="0.9"/>
<line x1="437.20" y1="284.70" x2="492.40" y2="284.70" stroke="#111" stroke-width="0.9"/>
<text x="397.10" y="295.30" font-size="8.3" text-anchor="middle" font-weight="normal" fill="#231f20" textLength="28.20" lengthAdjust="spacingAndGlyphs">Healthy</text>
<text x="464.80" y="295.30" font-size="8.3" text-anchor="middle" font-weight="normal" fill="#231f20" textLength="35.00" lengthAdjust="spacingAndGlyphs">HU+CKD</text>
<text x="6.60" y="315.00" font-size="10.8" text-anchor="start" font-weight="bold" fill="#000" style="stroke:#000;stroke-width:0.45px">G</text>
<line x1="33.20" y1="322.50" x2="33.20" y2="414.10" stroke="#111" stroke-width="1.1"/>
<line x1="32.65" y1="413.50" x2="162.10" y2="413.50" stroke="#111" stroke-width="1.2"/>
<line x1="30.00" y1="413.50" x2="33.20" y2="413.50" stroke="#111" stroke-width="0.9"/>
<text x="27.40" y="416.16" font-size="8.3" text-anchor="end" font-weight="normal" fill="#231f20" textLength="4.30" lengthAdjust="spacingAndGlyphs">0</text>
<line x1="30.00" y1="401.11" x2="33.20" y2="401.11" stroke="#111" stroke-width="0.9"/>
<text x="27.40" y="403.77" font-size="8.3" text-anchor="end" font-weight="normal" fill="#231f20" textLength="8.60" lengthAdjust="spacingAndGlyphs">10</text>
<line x1="30.00" y1="388.73" x2="33.20" y2="388.73" stroke="#111" stroke-width="0.9"/>
<text x="27.40" y="391.38" font-size="8.3" text-anchor="end" font-weight="normal" fill="#231f20" textLength="8.60" lengthAdjust="spacingAndGlyphs">20</text>
<line x1="30.00" y1="376.34" x2="33.20" y2="376.34" stroke="#111" stroke-width="0.9"/>
<text x="27.40" y="379.00" font-size="8.3" text-anchor="end" font-weight="normal" fill="#231f20" textLength="8.60" lengthAdjust="spacingAndGlyphs">30</text>
<line x1="30.00" y1="363.96" x2="33.20" y2="363.96" stroke="#111" stroke-width="0.9"/>
<text x="27.40" y="366.61" font-size="8.3" text-anchor="end" font-weight="normal" fill="#231f20" textLength="8.60" lengthAdjust="spacingAndGlyphs">40</text>
<line x1="30.00" y1="351.57" x2="33.20" y2="351.57" stroke="#111" stroke-width="0.9"/>
<text x="27.40" y="354.23" font-size="8.3" text-anchor="end" font-weight="normal" fill="#231f20" textLength="8.60" lengthAdjust="spacingAndGlyphs">50</text>
<line x1="30.00" y1="339.19" x2="33.20" y2="339.19" stroke="#111" stroke-width="0.9"/>
<text x="27.40" y="341.84" font-size="8.3" text-anchor="end" font-weight="normal" fill="#231f20" textLength="8.60" lengthAdjust="spacingAndGlyphs">60</text>
<line x1="30.00" y1="326.80" x2="33.20" y2="326.80" stroke="#111" stroke-width="0.9"/>
<text x="27.40" y="329.46" font-size="8.3" text-anchor="end" font-weight="normal" fill="#231f20" textLength="8.60" lengthAdjust="spacingAndGlyphs">70</text>
<text x="0" y="0" font-size="8.6" text-anchor="middle" fill="#231f20" textLength="86.20" lengthAdjust="spacingAndGlyphs" transform="translate(11.40 367.60) rotate(-90)">IL-1β in air pouch (pg/mL)</text>
<rect x="39.00" y="413.13" width="9.60" height="0.37" fill="#df8798"/>
<rect x="64.60" y="361.48" width="9.60" height="52.02" fill="#df8798"/>
<rect x="90.30" y="413.13" width="9.60" height="0.37" fill="#5582ab"/>
<rect x="105.70" y="413.13" width="9.60" height="0.37" fill="#ad8fba"/>
<rect x="131.70" y="386.62" width="9.60" height="26.88" fill="#5582ab"/>
<rect x="146.90" y="363.96" width="9.60" height="49.54" fill="#ad8fba"/>
<circle cx="41.30" cy="413.25" r="2.35" fill="#cf0f3a" stroke="#9a0a2a" stroke-width="0.35"/>
<circle cx="43.80" cy="413.25" r="2.35" fill="#cf0f3a" stroke="#9a0a2a" stroke-width="0.35"/>
<circle cx="46.30" cy="413.25" r="2.35" fill="#cf0f3a" stroke="#9a0a2a" stroke-width="0.35"/>
<circle cx="69.40" cy="351.08" r="2.35" fill="#cf0f3a" stroke="#9a0a2a" stroke-width="0.35"/>
<circle cx="67.90" cy="356.77" r="2.35" fill="#cf0f3a" stroke="#9a0a2a" stroke-width="0.35"/>
<circle cx="70.90" cy="362.47" r="2.35" fill="#cf0f3a" stroke="#9a0a2a" stroke-width="0.35"/>
<circle cx="68.40" cy="363.46" r="2.35" fill="#cf0f3a" stroke="#9a0a2a" stroke-width="0.35"/>
<circle cx="69.40" cy="371.39" r="2.35" fill="#cf0f3a" stroke="#9a0a2a" stroke-width="0.35"/>
<line x1="69.40" y1="353.55" x2="69.40" y2="368.91" stroke="#111" stroke-width="1.0"/>
<line x1="66.70" y1="353.55" x2="72.10" y2="353.55" stroke="#111" stroke-width="1.0"/>
<line x1="66.70" y1="368.91" x2="72.10" y2="368.91" stroke="#111" stroke-width="1.0"/>
<rect x="90.95" y="411.10" width="4.30" height="4.30" fill="#1a5594"/>
<rect x="94.95" y="411.10" width="4.30" height="4.30" fill="#1a5594"/>
<rect x="92.95" y="411.10" width="4.30" height="4.30" fill="#1a5594"/>
<rect x="106.35" y="411.10" width="4.30" height="4.30" fill="#58207a"/>
<rect x="110.35" y="411.10" width="4.30" height="4.30" fill="#58207a"/>
<rect x="108.35" y="411.10" width="4.30" height="4.30" fill="#58207a"/>
<rect x="132.35" y="378.53" width="4.30" height="4.30" fill="#1a5594"/>
<rect x="136.35" y="377.91" width="4.30" height="4.30" fill="#1a5594"/>
<rect x="134.35" y="379.77" width="4.30" height="4.30" fill="#1a5594"/>
<rect x="134.35" y="393.39" width="4.30" height="4.30" fill="#1a5594"/>
<rect x="133.35" y="392.15" width="4.30" height="4.30" fill="#1a5594"/>
<line x1="136.50" y1="382.66" x2="136.50" y2="391.33" stroke="#111" stroke-width="1.0"/>
<line x1="133.80" y1="382.66" x2="139.20" y2="382.66" stroke="#111" stroke-width="1.0"/>
<line x1="133.80" y1="391.33" x2="139.20" y2="391.33" stroke="#111" stroke-width="1.0"/>
<rect x="151.55" y="345.71" width="4.30" height="4.30" fill="#58207a"/>
<rect x="147.55" y="351.90" width="4.30" height="4.30" fill="#58207a"/>
<rect x="149.55" y="358.46" width="4.30" height="4.30" fill="#58207a"/>
<rect x="147.55" y="367.01" width="4.30" height="4.30" fill="#58207a"/>
<rect x="151.55" y="369.24" width="4.30" height="4.30" fill="#58207a"/>
<rect x="150.55" y="374.81" width="4.30" height="4.30" fill="#58207a"/>
<line x1="151.70" y1="352.81" x2="151.70" y2="375.35" stroke="#111" stroke-width="1.0"/>
<line x1="149.00" y1="352.81" x2="154.40" y2="352.81" stroke="#111" stroke-width="1.0"/>
<line x1="149.00" y1="375.35" x2="154.40" y2="375.35" stroke="#111" stroke-width="1.0"/>
<line x1="44.30" y1="345.10" x2="67.90" y2="345.10" stroke="#111" stroke-width="0.9"/>
<polygon points="52.20,339.05 52.77,340.21 54.05,340.40 53.13,341.30 53.35,342.58 52.20,341.98 51.05,342.58 51.27,341.30 50.35,340.40 51.63,340.21" fill="#231f20"/>
<polygon points="56.10,339.05 56.67,340.21 57.95,340.40 57.03,341.30 57.25,342.58 56.10,341.98 54.95,342.58 55.17,341.30 54.25,340.40 55.53,340.21" fill="#231f20"/>
<polygon points="60.00,339.05 60.57,340.21 61.85,340.40 60.93,341.30 61.15,342.58 60.00,341.98 58.85,342.58 59.07,341.30 58.15,340.40 59.43,340.21" fill="#231f20"/>
<line x1="70.20" y1="330.40" x2="135.80" y2="330.40" stroke="#111" stroke-width="0.9"/>
<polygon points="101.05,324.35 101.62,325.51 102.90,325.70 101.98,326.60 102.20,327.88 101.05,327.27 99.90,327.88 100.12,326.60 99.20,325.70 100.48,325.51" fill="#231f20"/>
<polygon points="104.95,324.35 105.52,325.51 106.80,325.70 105.88,326.60 106.10,327.88 104.95,327.27 103.80,327.88 104.02,326.60 103.10,325.70 104.38,325.51" fill="#231f20"/>
<line x1="94.50" y1="341.00" x2="133.00" y2="341.00" stroke="#111" stroke-width="0.9"/>
<polygon points="109.85,334.95 110.42,336.11 111.70,336.30 110.78,337.20 111.00,338.48 109.85,337.88 108.70,338.48 108.92,337.20 108.00,336.30 109.28,336.11" fill="#231f20"/>
<polygon points="113.75,334.95 114.32,336.11 115.60,336.30 114.68,337.20 114.90,338.48 113.75,337.88 112.60,338.48 112.82,337.20 111.90,336.30 113.18,336.11" fill="#231f20"/>
<polygon points="117.65,334.95 118.22,336.11 119.50,336.30 118.58,337.20 118.80,338.48 117.65,337.88 116.50,338.48 116.72,337.20 115.80,336.30 117.08,336.11" fill="#231f20"/>
<line x1="135.00" y1="341.00" x2="152.10" y2="341.00" stroke="#111" stroke-width="0.9"/>
<polygon points="141.60,334.95 142.17,336.11 143.45,336.30 142.53,337.20 142.75,338.48 141.60,337.88 140.45,338.48 140.67,337.20 139.75,336.30 141.03,336.11" fill="#231f20"/>
<polygon points="145.50,334.95 146.07,336.11 147.35,336.30 146.43,337.20 146.65,338.48 145.50,337.88 144.35,338.48 144.57,337.20 143.65,336.30 144.93,336.11" fill="#231f20"/>
<line x1="94.20" y1="407.60" x2="111.10" y2="407.60" stroke="#111" stroke-width="0.9"/>
<text x="102.65" y="405.40" font-size="8.2" text-anchor="middle" font-weight="normal" fill="#231f20">ns</text>
<rect x="55.80" y="315.05" width="4.50" height="4.50" fill="#1a5594"/>
<text x="62.90" y="320.18" font-size="8.0" text-anchor="start" font-weight="normal" fill="#231f20" textLength="23.80" lengthAdjust="spacingAndGlyphs">Vehicle</text>
<rect x="93.30" y="315.05" width="4.50" height="4.50" fill="#58207a"/>
<text x="100.40" y="320.18" font-size="8.0" text-anchor="start" font-weight="normal" fill="#231f20" textLength="39.20" lengthAdjust="spacingAndGlyphs">Rasburicase</text>
<text x="0" y="0" font-size="7.8" text-anchor="end" fill="#231f20" transform="translate(46.60 420.30) rotate(-45)">Vehicle</text>
<text x="0" y="0" font-size="7.8" text-anchor="end" fill="#231f20" transform="translate(72.20 420.30) rotate(-45)">MSU crystals</text>
<text x="0" y="0" font-size="7.8" text-anchor="end" fill="#231f20" transform="translate(105.60 420.30) rotate(-45)">Vehicle</text>
<text x="0" y="0" font-size="7.8" text-anchor="end" fill="#231f20" transform="translate(146.90 420.30) rotate(-45)">MSU crystals</text>
<line x1="26.40" y1="455.50" x2="60.40" y2="455.50" stroke="#111" stroke-width="0.9"/>
<line x1="84.80" y1="455.50" x2="140.00" y2="455.50" stroke="#111" stroke-width="0.9"/>
<text x="43.75" y="465.40" font-size="8.3" text-anchor="middle" font-weight="normal" fill="#231f20" textLength="28.20" lengthAdjust="spacingAndGlyphs">Healthy</text>
<text x="114.25" y="465.40" font-size="8.3" text-anchor="middle" font-weight="normal" fill="#231f20" textLength="35.00" lengthAdjust="spacingAndGlyphs">HU+CKD</text>
<text x="173.00" y="315.00" font-size="10.8" text-anchor="start" font-weight="bold" fill="#000" style="stroke:#000;stroke-width:0.45px">H</text>
<line x1="209.50" y1="322.00" x2="209.50" y2="413.40" stroke="#111" stroke-width="1.1"/>
<line x1="208.95" y1="412.80" x2="338.40" y2="412.80" stroke="#111" stroke-width="1.2"/>
<line x1="206.30" y1="412.80" x2="209.50" y2="412.80" stroke="#111" stroke-width="0.9"/>
<text x="203.70" y="415.46" font-size="8.3" text-anchor="end" font-weight="normal" fill="#231f20" textLength="4.30" lengthAdjust="spacingAndGlyphs">0</text>
<line x1="206.30" y1="398.35" x2="209.50" y2="398.35" stroke="#111" stroke-width="0.9"/>
<text x="203.70" y="401.01" font-size="8.3" text-anchor="end" font-weight="normal" fill="#231f20" textLength="12.90" lengthAdjust="spacingAndGlyphs">500</text>
<line x1="206.30" y1="383.90" x2="209.50" y2="383.90" stroke="#111" stroke-width="0.9"/>
<text x="203.70" y="386.56" font-size="8.3" text-anchor="end" font-weight="normal" fill="#231f20" textLength="17.20" lengthAdjust="spacingAndGlyphs">1000</text>
<line x1="206.30" y1="369.45" x2="209.50" y2="369.45" stroke="#111" stroke-width="0.9"/>
<text x="203.70" y="372.11" font-size="8.3" text-anchor="end" font-weight="normal" fill="#231f20" textLength="17.20" lengthAdjust="spacingAndGlyphs">1500</text>
<line x1="206.30" y1="355.00" x2="209.50" y2="355.00" stroke="#111" stroke-width="0.9"/>
<text x="203.70" y="357.66" font-size="8.3" text-anchor="end" font-weight="normal" fill="#231f20" textLength="17.20" lengthAdjust="spacingAndGlyphs">2000</text>
<line x1="206.30" y1="340.55" x2="209.50" y2="340.55" stroke="#111" stroke-width="0.9"/>
<text x="203.70" y="343.21" font-size="8.3" text-anchor="end" font-weight="normal" fill="#231f20" textLength="17.20" lengthAdjust="spacingAndGlyphs">2500</text>
<line x1="206.30" y1="326.10" x2="209.50" y2="326.10" stroke="#111" stroke-width="0.9"/>
<text x="203.70" y="328.76" font-size="8.3" text-anchor="end" font-weight="normal" fill="#231f20" textLength="17.20" lengthAdjust="spacingAndGlyphs">3000</text>
<text x="0" y="0" font-size="8.6" text-anchor="middle" fill="#231f20" textLength="82.00" lengthAdjust="spacingAndGlyphs" transform="translate(179.60 368.20) rotate(-90)">IL-6 in air pouch (pg/mL)</text>
<rect x="215.30" y="411.93" width="9.60" height="0.87" fill="#df8798"/>
<rect x="240.90" y="355.29" width="9.60" height="57.51" fill="#df8798"/>
<rect x="266.60" y="411.64" width="9.60" height="1.16" fill="#5582ab"/>
<rect x="282.00" y="411.36" width="9.60" height="1.44" fill="#ad8fba"/>
<rect x="308.00" y="387.37" width="9.60" height="25.43" fill="#5582ab"/>
<rect x="323.20" y="379.71" width="9.60" height="33.09" fill="#ad8fba"/>
<circle cx="217.60" cy="411.93" r="2.35" fill="#cf0f3a" stroke="#9a0a2a" stroke-width="0.35"/>
<circle cx="220.10" cy="411.64" r="2.35" fill="#cf0f3a" stroke="#9a0a2a" stroke-width="0.35"/>
<circle cx="222.60" cy="412.22" r="2.35" fill="#cf0f3a" stroke="#9a0a2a" stroke-width="0.35"/>
<circle cx="245.70" cy="344.02" r="2.35" fill="#cf0f3a" stroke="#9a0a2a" stroke-width="0.35"/>
<circle cx="243.70" cy="349.22" r="2.35" fill="#cf0f3a" stroke="#9a0a2a" stroke-width="0.35"/>
<circle cx="247.70" cy="352.11" r="2.35" fill="#cf0f3a" stroke="#9a0a2a" stroke-width="0.35"/>
<circle cx="243.70" cy="357.89" r="2.35" fill="#cf0f3a" stroke="#9a0a2a" stroke-width="0.35"/>
<circle cx="246.70" cy="360.78" r="2.35" fill="#cf0f3a" stroke="#9a0a2a" stroke-width="0.35"/>
<circle cx="247.70" cy="365.12" r="2.35" fill="#cf0f3a" stroke="#9a0a2a" stroke-width="0.35"/>
<line x1="245.70" y1="346.33" x2="245.70" y2="362.23" stroke="#111" stroke-width="1.0"/>
<line x1="243.00" y1="346.33" x2="248.40" y2="346.33" stroke="#111" stroke-width="1.0"/>
<line x1="243.00" y1="362.23" x2="248.40" y2="362.23" stroke="#111" stroke-width="1.0"/>
<rect x="267.25" y="409.49" width="4.30" height="4.30" fill="#1a5594"/>
<rect x="271.25" y="409.49" width="4.30" height="4.30" fill="#1a5594"/>
<rect x="269.25" y="409.49" width="4.30" height="4.30" fill="#1a5594"/>
<rect x="282.65" y="409.21" width="4.30" height="4.30" fill="#58207a"/>
<rect x="286.65" y="409.21" width="4.30" height="4.30" fill="#58207a"/>
<rect x="284.65" y="409.21" width="4.30" height="4.30" fill="#58207a"/>
<rect x="309.65" y="380.31" width="4.30" height="4.30" fill="#1a5594"/>
<rect x="311.65" y="383.20" width="4.30" height="4.30" fill="#1a5594"/>
<rect x="310.65" y="386.09" width="4.30" height="4.30" fill="#1a5594"/>
<rect x="311.65" y="390.42" width="4.30" height="4.30" fill="#1a5594"/>
<line x1="312.80" y1="383.90" x2="312.80" y2="391.12" stroke="#111" stroke-width="1.0"/>
<line x1="310.10" y1="383.90" x2="315.50" y2="383.90" stroke="#111" stroke-width="1.0"/>
<line x1="310.10" y1="391.12" x2="315.50" y2="391.12" stroke="#111" stroke-width="1.0"/>
<rect x="325.85" y="373.08" width="4.30" height="4.30" fill="#58207a"/>
<rect x="323.85" y="375.10" width="4.30" height="4.30" fill="#58207a"/>
<rect x="327.85" y="375.97" width="4.30" height="4.30" fill="#58207a"/>
<rect x="324.85" y="377.42" width="4.30" height="4.30" fill="#58207a"/>
<rect x="327.85" y="378.86" width="4.30" height="4.30" fill="#58207a"/>
<line x1="328.00" y1="376.68" x2="328.00" y2="381.01" stroke="#111" stroke-width="1.0"/>
<line x1="325.30" y1="376.68" x2="330.70" y2="376.68" stroke="#111" stroke-width="1.0"/>
<line x1="325.30" y1="381.01" x2="330.70" y2="381.01" stroke="#111" stroke-width="1.0"/>
<line x1="220.60" y1="338.50" x2="244.20" y2="338.50" stroke="#111" stroke-width="0.9"/>
<polygon points="228.50,332.45 229.07,333.61 230.35,333.80 229.43,334.70 229.65,335.98 228.50,335.38 227.35,335.98 227.57,334.70 226.65,333.80 227.93,333.61" fill="#231f20"/>
<polygon points="232.40,332.45 232.97,333.61 234.25,333.80 233.33,334.70 233.55,335.98 232.40,335.38 231.25,335.98 231.47,334.70 230.55,333.80 231.83,333.61" fill="#231f20"/>
<polygon points="236.30,332.45 236.87,333.61 238.15,333.80 237.23,334.70 237.45,335.98 236.30,335.38 235.15,335.98 235.37,334.70 234.45,333.80 235.73,333.61" fill="#231f20"/>
<line x1="246.50" y1="338.50" x2="312.10" y2="338.50" stroke="#111" stroke-width="0.9"/>
<polygon points="277.35,332.45 277.92,333.61 279.20,333.80 278.28,334.70 278.50,335.98 277.35,335.38 276.20,335.98 276.42,334.70 275.50,333.80 276.78,333.61" fill="#231f20"/>
<polygon points="281.25,332.45 281.82,333.61 283.10,333.80 282.18,334.70 282.40,335.98 281.25,335.38 280.10,335.98 280.32,334.70 279.40,333.80 280.68,333.61" fill="#231f20"/>
<line x1="270.80" y1="369.60" x2="309.30" y2="369.60" stroke="#111" stroke-width="0.9"/>
<polygon points="286.15,363.55 286.72,364.71 288.00,364.90 287.08,365.80 287.30,367.08 286.15,366.48 285.00,367.08 285.22,365.80 284.30,364.90 285.58,364.71" fill="#231f20"/>
<polygon points="290.05,363.55 290.62,364.71 291.90,364.90 290.98,365.80 291.20,367.08 290.05,366.48 288.90,367.08 289.12,365.80 288.20,364.90 289.48,364.71" fill="#231f20"/>
<polygon points="293.95,363.55 294.52,364.71 295.80,364.90 294.88,365.80 295.10,367.08 293.95,366.48 292.80,367.08 293.02,365.80 292.10,364.90 293.38,364.71" fill="#231f20"/>
<line x1="311.30" y1="369.60" x2="328.40" y2="369.60" stroke="#111" stroke-width="0.9"/>
<polygon points="317.90,363.55 318.47,364.71 319.75,364.90 318.83,365.80 319.05,367.08 317.90,366.48 316.75,367.08 316.97,365.80 316.05,364.90 317.33,364.71" fill="#231f20"/>
<polygon points="321.80,363.55 322.37,364.71 323.65,364.90 322.73,365.80 322.95,367.08 321.80,366.48 320.65,367.08 320.87,365.80 319.95,364.90 321.23,364.71" fill="#231f20"/>
<line x1="270.50" y1="405.10" x2="287.40" y2="405.10" stroke="#111" stroke-width="0.9"/>
<text x="278.95" y="402.90" font-size="8.2" text-anchor="middle" font-weight="normal" fill="#231f20">ns</text>
<rect x="232.10" y="315.05" width="4.50" height="4.50" fill="#1a5594"/>
<text x="239.20" y="320.18" font-size="8.0" text-anchor="start" font-weight="normal" fill="#231f20" textLength="23.80" lengthAdjust="spacingAndGlyphs">Vehicle</text>
<rect x="269.60" y="315.05" width="4.50" height="4.50" fill="#58207a"/>
<text x="276.70" y="320.18" font-size="8.0" text-anchor="start" font-weight="normal" fill="#231f20" textLength="39.20" lengthAdjust="spacingAndGlyphs">Rasburicase</text>
<text x="0" y="0" font-size="7.8" text-anchor="end" fill="#231f20" transform="translate(222.90 420.80) rotate(-45)">Vehicle</text>
<text x="0" y="0" font-size="7.8" text-anchor="end" fill="#231f20" transform="translate(248.50 420.80) rotate(-45)">MSU crystals</text>
<text x="0" y="0" font-size="7.8" text-anchor="end" fill="#231f20" transform="translate(281.90 420.80) rotate(-45)">Vehicle</text>
<text x="0" y="0" font-size="7.8" text-anchor="end" fill="#231f20" transform="translate(323.20 420.80) rotate(-45)">MSU crystals</text>
<line x1="202.70" y1="455.40" x2="236.70" y2="455.40" stroke="#111" stroke-width="0.9"/>
<line x1="261.10" y1="455.40" x2="316.30" y2="455.40" stroke="#111" stroke-width="0.9"/>
<text x="221.00" y="465.00" font-size="8.3" text-anchor="middle" font-weight="normal" fill="#231f20" textLength="28.20" lengthAdjust="spacingAndGlyphs">Healthy</text>
<text x="288.70" y="465.00" font-size="8.3" text-anchor="middle" font-weight="normal" fill="#231f20" textLength="35.00" lengthAdjust="spacingAndGlyphs">HU+CKD</text>
<text x="352.00" y="315.00" font-size="10.8" text-anchor="start" font-weight="bold" fill="#000" style="stroke:#000;stroke-width:0.45px">I</text>
<line x1="385.00" y1="322.00" x2="385.00" y2="413.40" stroke="#111" stroke-width="1.1"/>
<line x1="384.45" y1="412.80" x2="513.90" y2="412.80" stroke="#111" stroke-width="1.2"/>
<line x1="381.80" y1="412.80" x2="385.00" y2="412.80" stroke="#111" stroke-width="0.9"/>
<text x="379.20" y="415.46" font-size="8.3" text-anchor="end" font-weight="normal" fill="#231f20" textLength="4.30" lengthAdjust="spacingAndGlyphs">0</text>
<line x1="381.80" y1="400.66" x2="385.00" y2="400.66" stroke="#111" stroke-width="0.9"/>
<text x="379.20" y="403.31" font-size="8.3" text-anchor="end" font-weight="normal" fill="#231f20" textLength="12.90" lengthAdjust="spacingAndGlyphs">100</text>
<line x1="381.80" y1="388.51" x2="385.00" y2="388.51" stroke="#111" stroke-width="0.9"/>
<text x="379.20" y="391.17" font-size="8.3" text-anchor="end" font-weight="normal" fill="#231f20" textLength="12.90" lengthAdjust="spacingAndGlyphs">200</text>
<line x1="381.80" y1="376.37" x2="385.00" y2="376.37" stroke="#111" stroke-width="0.9"/>
<text x="379.20" y="379.03" font-size="8.3" text-anchor="end" font-weight="normal" fill="#231f20" textLength="12.90" lengthAdjust="spacingAndGlyphs">300</text>
<line x1="381.80" y1="364.23" x2="385.00" y2="364.23" stroke="#111" stroke-width="0.9"/>
<text x="379.20" y="366.88" font-size="8.3" text-anchor="end" font-weight="normal" fill="#231f20" textLength="12.90" lengthAdjust="spacingAndGlyphs">400</text>
<line x1="381.80" y1="352.09" x2="385.00" y2="352.09" stroke="#111" stroke-width="0.9"/>
<text x="379.20" y="354.74" font-size="8.3" text-anchor="end" font-weight="normal" fill="#231f20" textLength="12.90" lengthAdjust="spacingAndGlyphs">500</text>
<line x1="381.80" y1="339.94" x2="385.00" y2="339.94" stroke="#111" stroke-width="0.9"/>
<text x="379.20" y="342.60" font-size="8.3" text-anchor="end" font-weight="normal" fill="#231f20" textLength="12.90" lengthAdjust="spacingAndGlyphs">600</text>
<line x1="381.80" y1="327.80" x2="385.00" y2="327.80" stroke="#111" stroke-width="0.9"/>
<text x="379.20" y="330.46" font-size="8.3" text-anchor="end" font-weight="normal" fill="#231f20" textLength="12.90" lengthAdjust="spacingAndGlyphs">700</text>
<text x="0" y="0" font-size="8.6" text-anchor="middle" fill="#231f20" textLength="90.20" lengthAdjust="spacingAndGlyphs" transform="translate(358.50 368.60) rotate(-90)">CXCL-1 in air pouch (pg/mL)</text>
<rect x="390.80" y="398.11" width="9.60" height="14.69" fill="#df8798"/>
<rect x="416.40" y="350.63" width="9.60" height="62.17" fill="#df8798"/>
<rect x="442.10" y="406.36" width="9.60" height="6.44" fill="#5582ab"/>
<rect x="457.50" y="403.81" width="9.60" height="8.99" fill="#ad8fba"/>
<rect x="483.50" y="378.56" width="9.60" height="34.24" fill="#5582ab"/>
<rect x="498.70" y="353.18" width="9.60" height="59.62" fill="#ad8fba"/>
<circle cx="395.60" cy="391.55" r="2.35" fill="#cf0f3a" stroke="#9a0a2a" stroke-width="0.35"/>
<circle cx="393.60" cy="397.26" r="2.35" fill="#cf0f3a" stroke="#9a0a2a" stroke-width="0.35"/>
<circle cx="397.10" cy="397.99" r="2.35" fill="#cf0f3a" stroke="#9a0a2a" stroke-width="0.35"/>
<circle cx="398.10" cy="405.27" r="2.35" fill="#cf0f3a" stroke="#9a0a2a" stroke-width="0.35"/>
<line x1="395.60" y1="392.40" x2="395.60" y2="403.33" stroke="#111" stroke-width="1.0"/>
<line x1="392.90" y1="392.40" x2="398.30" y2="392.40" stroke="#111" stroke-width="1.0"/>
<line x1="392.90" y1="403.33" x2="398.30" y2="403.33" stroke="#111" stroke-width="1.0"/>
<circle cx="421.20" cy="344.19" r="2.35" fill="#cf0f3a" stroke="#9a0a2a" stroke-width="0.35"/>
<circle cx="419.20" cy="347.84" r="2.35" fill="#cf0f3a" stroke="#9a0a2a" stroke-width="0.35"/>
<circle cx="423.20" cy="352.09" r="2.35" fill="#cf0f3a" stroke="#9a0a2a" stroke-width="0.35"/>
<circle cx="420.20" cy="355.73" r="2.35" fill="#cf0f3a" stroke="#9a0a2a" stroke-width="0.35"/>
<circle cx="421.20" cy="358.76" r="2.35" fill="#cf0f3a" stroke="#9a0a2a" stroke-width="0.35"/>
<line x1="421.20" y1="344.80" x2="421.20" y2="358.16" stroke="#111" stroke-width="1.0"/>
<line x1="418.50" y1="344.80" x2="423.90" y2="344.80" stroke="#111" stroke-width="1.0"/>
<line x1="418.50" y1="358.16" x2="423.90" y2="358.16" stroke="#111" stroke-width="1.0"/>
<rect x="442.75" y="404.34" width="4.30" height="4.30" fill="#1a5594"/>
<rect x="446.75" y="404.58" width="4.30" height="4.30" fill="#1a5594"/>
<rect x="444.75" y="405.19" width="4.30" height="4.30" fill="#1a5594"/>
<rect x="442.75" y="405.79" width="4.30" height="4.30" fill="#1a5594"/>
<rect x="446.75" y="405.79" width="4.30" height="4.30" fill="#1a5594"/>
<line x1="446.90" y1="406.12" x2="446.90" y2="408.19" stroke="#111" stroke-width="1.0"/>
<line x1="444.20" y1="406.12" x2="449.60" y2="406.12" stroke="#111" stroke-width="1.0"/>
<line x1="444.20" y1="408.19" x2="449.60" y2="408.19" stroke="#111" stroke-width="1.0"/>
<rect x="458.15" y="397.54" width="4.30" height="4.30" fill="#58207a"/>
<rect x="462.15" y="397.54" width="4.30" height="4.30" fill="#58207a"/>
<rect x="460.15" y="403.36" width="4.30" height="4.30" fill="#58207a"/>
<rect x="458.15" y="406.40" width="4.30" height="4.30" fill="#58207a"/>
<rect x="462.15" y="406.40" width="4.30" height="4.30" fill="#58207a"/>
<line x1="462.30" y1="400.05" x2="462.30" y2="408.55" stroke="#111" stroke-width="1.0"/>
<line x1="459.60" y1="400.05" x2="465.00" y2="400.05" stroke="#111" stroke-width="1.0"/>
<line x1="459.60" y1="408.55" x2="465.00" y2="408.55" stroke="#111" stroke-width="1.0"/>
<rect x="487.15" y="361.59" width="4.30" height="4.30" fill="#1a5594"/>
<rect x="483.65" y="366.81" width="4.30" height="4.30" fill="#1a5594"/>
<rect x="483.65" y="371.79" width="4.30" height="4.30" fill="#1a5594"/>
<rect x="487.65" y="375.80" width="4.30" height="4.30" fill="#1a5594"/>
<rect x="485.15" y="386.85" width="4.30" height="4.30" fill="#1a5594"/>
<rect x="487.65" y="388.79" width="4.30" height="4.30" fill="#1a5594"/>
<line x1="488.30" y1="367.87" x2="488.30" y2="389.24" stroke="#111" stroke-width="1.0"/>
<line x1="485.60" y1="367.87" x2="491.00" y2="367.87" stroke="#111" stroke-width="1.0"/>
<line x1="485.60" y1="389.24" x2="491.00" y2="389.24" stroke="#111" stroke-width="1.0"/>
<rect x="501.35" y="344.84" width="4.30" height="4.30" fill="#58207a"/>
<rect x="499.35" y="347.87" width="4.30" height="4.30" fill="#58207a"/>
<rect x="503.35" y="349.94" width="4.30" height="4.30" fill="#58207a"/>
<rect x="501.35" y="352.85" width="4.30" height="4.30" fill="#58207a"/>
<rect x="501.35" y="359.89" width="4.30" height="4.30" fill="#58207a"/>
<line x1="503.50" y1="348.08" x2="503.50" y2="356.94" stroke="#111" stroke-width="1.0"/>
<line x1="500.80" y1="348.08" x2="506.20" y2="348.08" stroke="#111" stroke-width="1.0"/>
<line x1="500.80" y1="356.94" x2="506.20" y2="356.94" stroke="#111" stroke-width="1.0"/>
<line x1="396.10" y1="332.20" x2="419.70" y2="332.20" stroke="#111" stroke-width="0.9"/>
<polygon points="404.00,326.15 404.57,327.31 405.85,327.50 404.93,328.40 405.15,329.68 404.00,329.07 402.85,329.68 403.07,328.40 402.15,327.50 403.43,327.31" fill="#231f20"/>
<polygon points="407.90,326.15 408.47,327.31 409.75,327.50 408.83,328.40 409.05,329.68 407.90,329.07 406.75,329.68 406.97,328.40 406.05,327.50 407.33,327.31" fill="#231f20"/>
<polygon points="411.80,326.15 412.37,327.31 413.65,327.50 412.73,328.40 412.95,329.68 411.80,329.07 410.65,329.68 410.87,328.40 409.95,327.50 411.23,327.31" fill="#231f20"/>
<line x1="422.00" y1="332.20" x2="487.60" y2="332.20" stroke="#111" stroke-width="0.9"/>
<polygon points="452.85,326.15 453.42,327.31 454.70,327.50 453.78,328.40 454.00,329.68 452.85,329.07 451.70,329.68 451.92,328.40 451.00,327.50 452.28,327.31" fill="#231f20"/>
<polygon points="456.75,326.15 457.32,327.31 458.60,327.50 457.68,328.40 457.90,329.68 456.75,329.07 455.60,329.68 455.82,328.40 454.90,327.50 456.18,327.31" fill="#231f20"/>
<line x1="446.30" y1="343.00" x2="484.80" y2="343.00" stroke="#111" stroke-width="0.9"/>
<polygon points="461.65,336.95 462.22,338.11 463.50,338.30 462.58,339.20 462.80,340.48 461.65,339.88 460.50,340.48 460.72,339.20 459.80,338.30 461.08,338.11" fill="#231f20"/>
<polygon points="465.55,336.95 466.12,338.11 467.40,338.30 466.48,339.20 466.70,340.48 465.55,339.88 464.40,340.48 464.62,339.20 463.70,338.30 464.98,338.11" fill="#231f20"/>
<polygon points="469.45,336.95 470.02,338.11 471.30,338.30 470.38,339.20 470.60,340.48 469.45,339.88 468.30,340.48 468.52,339.20 467.60,338.30 468.88,338.11" fill="#231f20"/>
<line x1="486.80" y1="343.00" x2="503.90" y2="343.00" stroke="#111" stroke-width="0.9"/>
<polygon points="493.40,336.95 493.97,338.11 495.25,338.30 494.33,339.20 494.55,340.48 493.40,339.88 492.25,340.48 492.47,339.20 491.55,338.30 492.83,338.11" fill="#231f20"/>
<polygon points="497.30,336.95 497.87,338.11 499.15,338.30 498.23,339.20 498.45,340.48 497.30,339.88 496.15,340.48 496.37,339.20 495.45,338.30 496.73,338.11" fill="#231f20"/>
<line x1="446.00" y1="394.20" x2="462.90" y2="394.20" stroke="#111" stroke-width="0.9"/>
<text x="454.45" y="392.00" font-size="8.2" text-anchor="middle" font-weight="normal" fill="#231f20">ns</text>
<rect x="407.60" y="315.05" width="4.50" height="4.50" fill="#1a5594"/>
<text x="414.70" y="320.18" font-size="8.0" text-anchor="start" font-weight="normal" fill="#231f20" textLength="23.80" lengthAdjust="spacingAndGlyphs">Vehicle</text>
<rect x="445.10" y="315.05" width="4.50" height="4.50" fill="#58207a"/>
<text x="452.20" y="320.18" font-size="8.0" text-anchor="start" font-weight="normal" fill="#231f20" textLength="39.20" lengthAdjust="spacingAndGlyphs">Rasburicase</text>
<text x="0" y="0" font-size="7.8" text-anchor="end" fill="#231f20" transform="translate(398.40 420.20) rotate(-45)">Vehicle</text>
<text x="0" y="0" font-size="7.8" text-anchor="end" fill="#231f20" transform="translate(424.00 420.20) rotate(-45)">MSU crystals</text>
<text x="0" y="0" font-size="7.8" text-anchor="end" fill="#231f20" transform="translate(457.40 420.20) rotate(-45)">Vehicle</text>
<text x="0" y="0" font-size="7.8" text-anchor="end" fill="#231f20" transform="translate(498.70 420.20) rotate(-45)">MSU crystals</text>
<line x1="378.20" y1="455.50" x2="412.20" y2="455.50" stroke="#111" stroke-width="0.9"/>
<line x1="436.60" y1="455.50" x2="491.80" y2="455.50" stroke="#111" stroke-width="0.9"/>
<text x="396.50" y="465.00" font-size="8.3" text-anchor="middle" font-weight="normal" fill="#231f20" textLength="28.20" lengthAdjust="spacingAndGlyphs">Healthy</text>
<text x="464.20" y="465.00" font-size="8.3" text-anchor="middle" font-weight="normal" fill="#231f20" textLength="35.00" lengthAdjust="spacingAndGlyphs">HU+CKD</text>
<rect x="0.5" y="0.5" width="519" height="473" fill="none" stroke="#000" stroke-width="1"/>
</svg>
</body></html>
